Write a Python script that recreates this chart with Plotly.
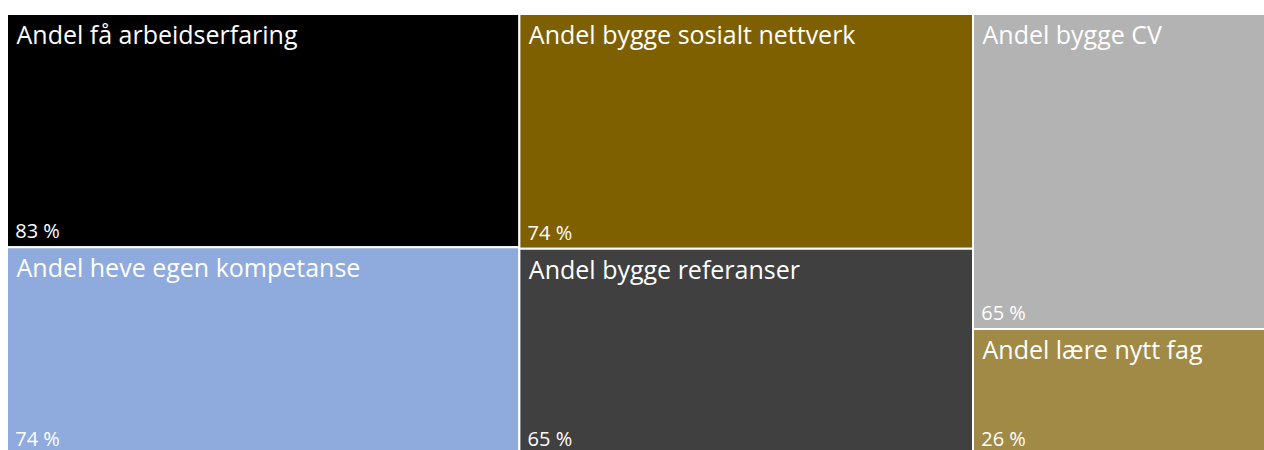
import plotly.graph_objects as go

root_label = "Alle"
labels = [
    "Andel få arbeidserfaring",
    "Andel heve egen kompetanse",
    "Andel bygge sosialt nettverk",
    "Andel bygge referanser",
    "Andel bygge CV",
    "Andel lære nytt fag",
]
values = [83, 74, 74, 65, 65, 26]
colors = ["#000000", "#8FAADC", "#7F6000", "#404040", "#B3B3B3", "#A08A46"]

font_family = "Open Sans, Segoe UI, Noto Sans, sans-serif"

all_labels = [root_label] + labels
all_parents = [""] + [root_label] * len(labels)
all_values = [0] + values

common = dict(
    labels=all_labels, parents=all_parents, values=all_values,
    branchvalues="remainder",
    sort=False,
    tiling=dict(packing="squarify", squarifyratio=1.618, pad=0),
    pathbar=dict(visible=False),
)

fig = go.Figure()
fig.add_trace(go.Treemap(
    **common,
    marker=dict(colors=["rgba(0,0,0,0)"] + colors,
                line=dict(color="white", width=2),
                pad=dict(t=0, l=0, r=0, b=0)),
    texttemplate=[""] + ["\u00a0%{label}"] * len(labels),
    textposition="top left",
    textfont=dict(family=font_family, size=25, color="white"),
    hoverinfo="label+value",
))
fig.add_trace(go.Treemap(
    **common,
    marker=dict(colors=["rgba(0,0,0,0)"] * len(all_labels),
                line=dict(color="rgba(0,0,0,0)", width=0),
                pad=dict(t=0, l=0, r=0, b=0)),
    texttemplate=[""] + ["\u00a0%{value} %"] * len(labels),
    textposition="bottom left",
    textfont=dict(family=font_family, size=20, color="white"),
    hoverinfo="skip",
))
# The reference treemap runs slightly past the right and bottom edges of the
# view, so the figure is a little larger than the window and overflow is hidden.
fig.update_layout(
    width=1270, height=455,
    margin=dict(l=7, r=0, t=14, b=0),
    paper_bgcolor="white",
    showlegend=False,
)
fig.write_html(
    "out.html",
    config={"displayModeBar": False},
    post_script=(
        "document.documentElement.style.overflow='hidden';"
        "document.body.style.overflow='hidden';"
        "document.body.style.margin='0';"
    ),
)
